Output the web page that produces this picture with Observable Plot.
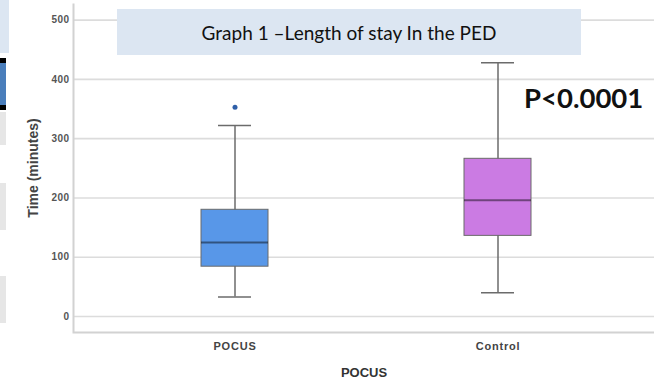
<!DOCTYPE html>
<html><head><meta charset="utf-8">
<script src="https://cdn.jsdelivr.net/npm/d3@7"></script>
<script src="https://cdn.jsdelivr.net/npm/@observablehq/plot@0.6"></script>
<style>
html,body{margin:0;padding:0;background:#fff;}
#wrap{position:relative;width:654px;height:385px;overflow:hidden;background:#fff;}
#chart svg{display:block;}
.deco{position:absolute;}
#title{position:absolute;left:117px;top:9px;width:464px;height:46px;background:#dce6f2;display:flex;align-items:center;justify-content:center;font-family:Lato,"Open Sans",sans-serif;font-size:19px;color:#111;white-space:nowrap;}
#pval{position:absolute;left:524px;top:84px;font-family:Lato,sans-serif;font-weight:bold;font-size:27.5px;line-height:27px;color:#111;white-space:nowrap;}
g[aria-label="x-axis tick label"] text{letter-spacing:0.8px;}
g[aria-label="x title"] text{letter-spacing:1px;}
g[aria-label="y title"] text{letter-spacing:0.5px;}
g[aria-label="y-axis tick label"] text{letter-spacing:0.4px;}
</style></head>
<body>
<div id="wrap">
  <div id="chart"></div>
  <div class="deco" style="left:0;top:0;width:9px;height:53px;background:#dce6f2"></div>
  <div class="deco" style="left:0;top:58px;width:6px;height:52px;background:#4a7ebb;border-top:5px solid #000;border-bottom:5px solid #000;box-sizing:border-box"></div>
  <div class="deco" style="left:0;top:112px;width:6px;height:33px;background:#e6e6e6"></div>
  <div class="deco" style="left:0;top:183px;width:6px;height:47px;background:#e6e6e6"></div>
  <div class="deco" style="left:0;top:276px;width:6px;height:47px;background:#e6e6e6"></div>
  <div id="title">Graph 1 –Length of stay In the PED</div>
  <div id="pval">P&lt;0.0001</div>
</div>
<script>
const groups = ["POCUS", "Control"];
const whiskerLow = [33, 40];
const quartile1 = [84, 136];
const medians = [125, 196];
const quartile3 = [180, 266];
const whiskerHigh = [322, 428];
const outlierGroup = ["POCUS"];
const outlierValue = [353];
const yTicks = [0, 100, 200, 300, 400, 500];
const yLabel = "Time (minutes)";
const xLabel = "POCUS";

const boxes = groups.map((g, i) => ({group: g, lo: whiskerLow[i], q1: quartile1[i], med: medians[i], q3: quartile3[i], hi: whiskerHigh[i]}));
const outliers = outlierGroup.map((g, i) => ({group: g, value: outlierValue[i]}));

const W = 654, H = 385, mL = 73, mR = 0, mT = 3, mB = 53;
const fw = W - mL - mR, fh = H - mT - mB;

const chart = Plot.plot({
  width: W,
  height: H,
  marginLeft: mL,
  marginRight: mR,
  marginTop: mT,
  marginBottom: mB,
  style: {fontFamily: "'Liberation Sans', Arial, sans-serif", background: "white", overflow: "hidden"},
  x: {domain: groups, range: [73, 658], paddingInner: 0.7457, paddingOuter: 0.4829},
  y: {domain: [-27, 528]},
  color: {domain: groups, range: ["#5897e8", "#cb7be3"]},
  marks: [
    Plot.gridY(yTicks, {stroke: "#dcdcdc", strokeOpacity: 1, strokeWidth: 1.6}),
    // frame drawn only on bottom and left sides (rect path: top, right, bottom, left)
    Plot.frame({stroke: "#d2d2d2", strokeWidth: 2, strokeDasharray: `0 ${fw + fh} ${fw + fh}`}),
    Plot.ruleX(boxes, {x: "group", y1: "lo", y2: "hi", stroke: "#6b6b6b", strokeWidth: 1.5}),
    Plot.tickY(boxes, {x: "group", y: "lo", stroke: "#6b6b6b", strokeWidth: 1.5, insetLeft: 17, insetRight: 17}),
    Plot.tickY(boxes, {x: "group", y: "hi", stroke: "#6b6b6b", strokeWidth: 1.5, insetLeft: 17, insetRight: 17}),
    Plot.barY(boxes, {x: "group", y1: "q1", y2: "q3", fill: "group", stroke: "#6a6a6a", strokeWidth: 1}),
    Plot.tickY(boxes, {x: "group", y: "med", stroke: "#000", strokeOpacity: 0.45, strokeWidth: 2}),
    Plot.dot(outliers, {x: "group", y: "value", r: 2.5, fill: "#2f5fa8", stroke: "none"}),
    Plot.axisY(yTicks, {tickSize: 0, tickPadding: 4, fontSize: 10, fontWeight: "bold", fill: "#555", label: null}),
    Plot.axisX({tickSize: 0, tickPadding: 10, fontSize: 11, fontWeight: "bold", fill: "#444", label: null}),
    Plot.text([yLabel], {text: d => d, frameAnchor: "left", textAnchor: "middle", lineAnchor: "middle", dx: -40, rotate: -90, fontSize: 14, fontWeight: "bold", fill: "#444", ariaLabel: "y title"}),
    Plot.text([xLabel], {text: d => d, frameAnchor: "bottom", textAnchor: "middle", lineAnchor: "middle", dy: 40, fontSize: 13, fontWeight: "bold", fill: "#333", ariaLabel: "x title"})
  ]
});
document.getElementById("chart").appendChild(chart);
</script>
</body></html>
